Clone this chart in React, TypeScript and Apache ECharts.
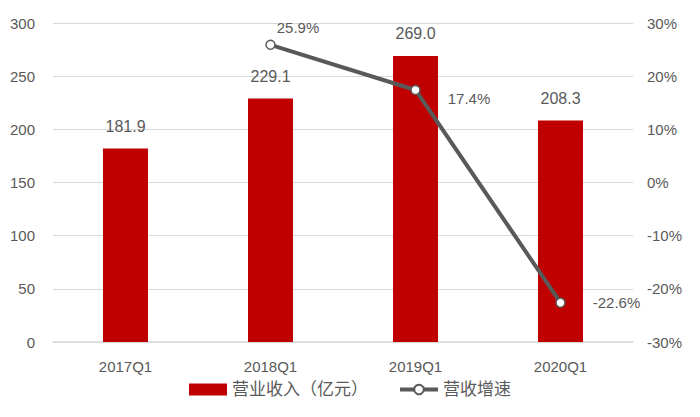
import { useEffect, useRef } from 'react'
import * as echarts from 'echarts'

const categories = ['2017Q1', '2018Q1', '2019Q1', '2020Q1']
const revenue = [181.9, 229.1, 269.0, 208.3]
const growth: (number | null)[] = [null, 25.9, 17.4, -22.6]

const TEXT = '#595959'
const FONT = "'Liberation Sans', 'Noto Sans CJK SC', sans-serif"

export default function App() {
  const chartRef = useRef<HTMLDivElement>(null)

  useEffect(() => {
    document.body.style.margin = '0'
    if (!chartRef.current) return
    const chart = echarts.init(chartRef.current, undefined, { renderer: 'svg' })

    const lineLabelPos: Record<number, { position: any; offset: number[] }> = {
      1: { position: 'right', offset: [-4, -17] },
      2: { position: 'right', offset: [22, 9] },
      3: { position: 'right', offset: [22, 0] },
    }

    chart.setOption({
      animation: false,
      textStyle: { fontFamily: FONT },
      grid: { left: 53, right: 67, top: 23, bottom: 75 },
      legend: {
        bottom: 14,
        left: 'center',
        itemGap: 30,
        itemWidth: 38,
        itemHeight: 12,
        textStyle: { color: TEXT, fontSize: 17, fontFamily: FONT },
        data: [
          { name: '营业收入（亿元）', icon: 'rect' },
          { name: '营收增速', lineStyle: { width: 4, color: TEXT } },
        ],
      },
      xAxis: {
        type: 'category',
        data: categories,
        axisLine: { lineStyle: { color: '#d9d9d9', width: 1.5 } },
        axisTick: { show: false },
        axisLabel: { color: TEXT, fontSize: 15, margin: 17 },
      },
      yAxis: [
        {
          type: 'value',
          min: 0,
          max: 300,
          interval: 50,
          axisLine: { show: false },
          axisTick: { show: false },
          axisLabel: { color: TEXT, fontSize: 15, margin: 18 },
          splitLine: { lineStyle: { color: '#d9d9d9', width: 1.2 } },
        },
        {
          type: 'value',
          min: -30,
          max: 30,
          interval: 10,
          axisLine: { show: false },
          axisTick: { show: false },
          axisLabel: { color: TEXT, fontSize: 15, margin: 14, formatter: '{value}%' },
          splitLine: { show: false },
        },
      ],
      series: [
        {
          name: '营业收入（亿元）',
          type: 'bar',
          data: revenue,
          barWidth: 45,
          itemStyle: { color: '#c00000' },
          label: {
            show: true,
            position: 'top',
            distance: 14,
            color: TEXT,
            fontSize: 16,
            formatter: (p: any) => p.value.toFixed(1),
          },
        },
        {
          name: '营收增速',
          type: 'line',
          yAxisIndex: 1,
          data: growth.map((v, i) =>
            v === null
              ? null
              : {
                  value: v,
                  label: {
                    show: true,
                    position: lineLabelPos[i].position,
                    offset: lineLabelPos[i].offset,
                  },
                },
          ),
          symbol: 'circle',
          symbolSize: 9,
          lineStyle: { color: TEXT, width: 4 },
          itemStyle: { color: '#fff', borderColor: TEXT, borderWidth: 1.5 },
          label: {
            show: true,
            color: TEXT,
            fontSize: 15,
            formatter: (p: any) => `${p.value.toFixed(1)}%`,
          },
        },
      ],
    })

    return () => chart.dispose()
  }, [])

  return <div ref={chartRef} style={{ width: 700, height: 417 }} />
}
